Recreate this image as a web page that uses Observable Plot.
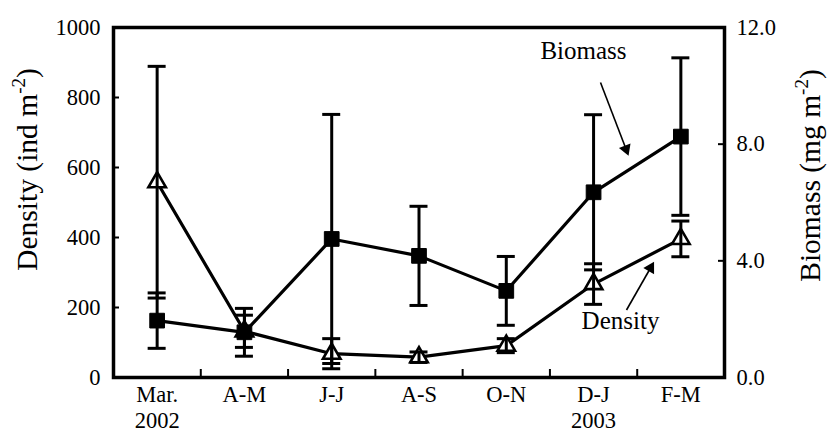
<!DOCTYPE html>
<html><head><meta charset="utf-8">
<script src="https://cdn.jsdelivr.net/npm/d3@7"></script>
<script src="https://cdn.jsdelivr.net/npm/@observablehq/plot@0.6"></script>
<style>body{margin:0;background:#fff}</style>
</head><body><div id="chart"></div>
<script>
// ---- data ----
const months = ["Mar.\n2002", "A-M", "J-J", "A-S", "O-N", "D-J\n2003", "F-M"];
const density = [558, 132, 68, 58, 91, 267, 396];      // ind m-2
const densityErr = [331, 46, 43, 15, 20, 58, 51];
const biomass = [1.95, 1.55, 4.75, 4.17, 2.97, 6.35, 8.26]; // mg m-2
const biomassErr = [0.95, 0.82, 4.27, 1.70, 1.18, 2.66, 2.70];
const densityTicks = [0, 200, 400, 600, 800, 1000];
const biomassTicks = [0, 4, 8, 12];

// ---- layout ----
const W = 827, H = 431, mL = 113, mR = 103, mT = 27, mB = 54;
const pw = W - mL - mR, ph = H - mT - mB;
const yMax = 1000, bMax = 12, k = yMax / bMax;
const pxX = pw / months.length, pxY = ph / yMax;
const px2x = px => (px - mL) / pxX - 0.5;
const px2y = py => (H - mB - py) / pxY;

const idx = months.map((m, i) => i);
const dens = idx.map(i => ({i, v: density[i], e: densityErr[i]}));
const bio = idx.map(i => ({i, v: biomass[i] * k, e: biomassErr[i] * k}));
const caps = s => s.flatMap(d => [{i: d.i, y: d.v - d.e}, {i: d.i, y: d.v + d.e}]);
const capHalf = 9 / pxX;
const font = "Liberation Serif, Times New Roman, serif";

const innerY = densityTicks.slice(1, -1);
const innerB = biomassTicks.slice(1, -1).map(v => v * k);
const bounds = idx.slice(0, -1).map(i => i + 0.5);

const arrows = [
  {x1: px2x(600), y1: px2y(82), x2: px2x(625.5), y2: px2y(148.5), rot: 158.9},
  {x1: px2x(626), y1: px2y(309.5), x2: px2x(650), y2: px2y(267.5), rot: 29.8}
];
const labels = [
  {x: px2x(583), y: px2y(50), t: "Biomass"},
  {x: px2x(620), y: px2y(320), t: "Density"}
];

const svg = Plot.plot({
  width: W, height: H,
  marginLeft: mL, marginRight: mR, marginTop: mT, marginBottom: mB,
  style: {fontFamily: font, fontSize: "22px", color: "black", background: "white", overflow: "visible"},
  x: {type: "linear", domain: [-0.5, months.length - 0.5]},
  y: {domain: [0, yMax]},
  marks: [
    Plot.axisY(densityTicks, {anchor: "left", tickSize: 0, tickPadding: 13, fontSize: 22.5, label: null,
      tickFormat: d => String(d)}),
    Plot.axisY(biomassTicks.map(v => v * k), {anchor: "right", tickSize: 0, tickPadding: 12, fontSize: 22.5,
      tickFormat: d => (d / k).toFixed(1), label: null}),
    Plot.axisX(idx, {anchor: "bottom", tickSize: 0, tickPadding: 7, fontSize: 22.5, lineHeight: 1.12,
      tickFormat: i => months[i], label: null}),
    // inward ticks
    Plot.ruleY(innerY, {x1: -0.5, x2: -0.5 + 6 / pxX, strokeWidth: 2}),
    Plot.ruleY(innerB, {x1: months.length - 0.5 - 6 / pxX, x2: months.length - 0.5, strokeWidth: 2}),
    Plot.ruleX(bounds, {y1: 0, y2: 8 / pxY, strokeWidth: 2}),
    // lines
    Plot.line(dens, {x: "i", y: "v", strokeWidth: 3.2}),
    Plot.line(bio, {x: "i", y: "v", strokeWidth: 3.2}),
    // density triangles
    Plot.dot(dens, {x: "i", y: "v", symbol: "triangle", r: 6.5, fill: "white", stroke: "black", strokeWidth: 2.6}),
    // error bars
    Plot.ruleX(dens, {x: "i", y1: d => d.v - d.e, y2: d => d.v + d.e, strokeWidth: 3}),
    Plot.ruleX(bio, {x: "i", y1: d => d.v - d.e, y2: d => d.v + d.e, strokeWidth: 3}),
    Plot.ruleY(caps(dens), {y: "y", x1: d => d.i - capHalf, x2: d => d.i + capHalf, strokeWidth: 3}),
    Plot.ruleY(caps(bio), {y: "y", x1: d => d.i - capHalf, x2: d => d.i + capHalf, strokeWidth: 3}),
    // biomass squares
    Plot.dot(bio, {x: "i", y: "v", symbol: "square", r: 8.3, fill: "black", stroke: "black", strokeWidth: 1, strokeLinejoin: "round"}),
    // annotations
    Plot.link(arrows, {x1: "x1", y1: "y1", x2: "x2", y2: "y2", strokeWidth: 1.6}),
    Plot.dot(arrows, {x: "x2", y: "y2", symbol: "triangle", r: 4.6, rotate: "rot", fill: "black", stroke: "none"}),
    Plot.text(labels, {x: "x", y: "y", text: "t", fontSize: 25, textAnchor: "middle", lineAnchor: "middle"}),
    // axis titles
    Plot.text(["Density (ind m-2)"], {frameAnchor: "left", dx: -85.5, dy: -33, rotate: -90, fontSize: 29.5,
      textAnchor: "middle", lineAnchor: "middle"}),
    Plot.text(["Biomass (mg m-2)"], {frameAnchor: "right", dx: 86, dy: -27, rotate: -90, fontSize: 29.5,
      textAnchor: "middle", lineAnchor: "middle"}),
    Plot.frame({strokeWidth: 3.5})
  ]
});

// superscripts in axis titles
svg.querySelectorAll("text").forEach(t => {
  const s = t.textContent;
  if (s.endsWith(" m-2)")) {
    const base = s.slice(0, -3);
    t.textContent = "";
    const ns = "http://www.w3.org/2000/svg";
    const a = document.createElementNS(ns, "tspan"); a.textContent = base;
    const b = document.createElementNS(ns, "tspan"); b.textContent = "-2";
    b.setAttribute("font-size", "19"); b.setAttribute("dy", "-12");
    const c = document.createElementNS(ns, "tspan"); c.textContent = ")"; c.setAttribute("dy", "12");
    t.append(a, b, c);
  }
});
document.getElementById("chart").append(svg);
</script>
</body></html>
